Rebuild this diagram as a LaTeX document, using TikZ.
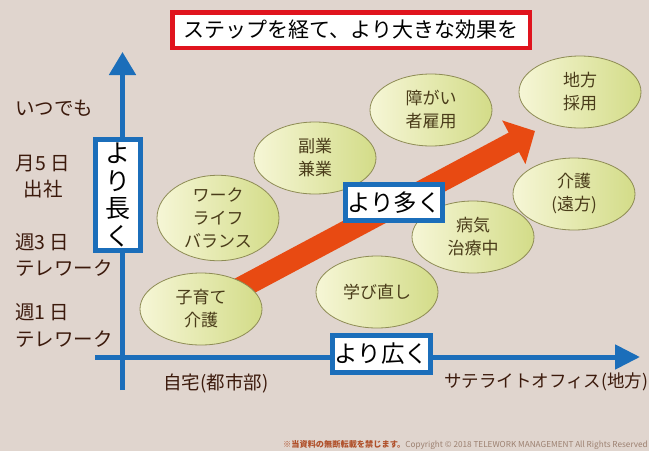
\documentclass[tikz,border=0pt]{standalone}
\usepackage{fontspec}
\setmainfont{Noto Sans CJK JP}
\usetikzlibrary{arrows.meta,shapes.geometric}
\definecolor{bgc}{HTML}{E0D5CE}
\definecolor{axisblue}{HTML}{1B6EBA}
\definecolor{titlered}{HTML}{E0141E}
\definecolor{arroworange}{HTML}{E84A12}
\definecolor{elltext}{HTML}{4A3C1A}
\definecolor{ellborder}{HTML}{8E8C55}
\definecolor{elllight}{HTML}{F6F6D6}
\definecolor{elldark}{HTML}{D3DC88}
\definecolor{labelbrown}{HTML}{3C1A0C}
\definecolor{copyjp}{HTML}{B0502A}
\definecolor{copyen}{HTML}{9C8070}
\pgfdeclarelayer{backlayer}
\pgfsetlayers{backlayer,main}
\begin{document}
\begin{tikzpicture}[x=1pt,y=-1pt,
  bubble/.style={ellipse, draw=ellborder, line width=0.8pt,
    left color=elllight, right color=elldark,
    minimum width=122pt, minimum height=72pt, inner sep=0pt,
    align=center, text=elltext, font=\fontsize{17}{23}\selectfont},
  bluebox/.style={draw=axisblue, line width=5pt, fill=white, inner sep=0pt,
    align=center, text=black, font=\fontsize{23.5}{27}\selectfont},
  titlebox/.style={draw=titlered, line width=4.5pt, fill=white, inner sep=0pt,
    text=black, font=\fontsize{21}{24}\selectfont},
  sidelabel/.style={inner sep=0pt, text=labelbrown, font=\fontsize{19.5}{26.5}\selectfont},
  axislabel/.style={inner sep=0pt, text=labelbrown},
  axisline/.style={draw=axisblue, line width=5pt},
  bigarrow/.style={draw=arroworange, line width=22pt, -{Triangle[width=48pt,length=24pt]}}
]
\useasboundingbox (0,0) rectangle (649,451);
\begin{pgfonlayer}{backlayer}
\fill[bgc] (0,0) rectangle (649,451);
\end{pgfonlayer}

% title
\node[titlebox, minimum width=357.5pt, minimum height=35.5pt] (title) at (351,30) {ステップを経て、より大きな効果を};

% axes
\coordinate (vbot) at (122.5,390);
\coordinate (vtop) at (122.5,52);
\coordinate (hleft) at (95,357);
\coordinate (hright) at (640,357);
\draw[axisline, -{Triangle[width=26pt,length=23pt]}] (vbot) -- (vtop);
\draw[axisline, -{Triangle[width=24pt,length=25pt]}] (hleft) -- (hright);

% bubbles
\node[bubble] (kosodate) at (201,309) {子育て\\介護};
\node[bubble] (wlb) at (218,218) {ワーク\\ライフ\\バランス};
\node[bubble] (fukugyo) at (315,158) {副業\\兼業};
\node[bubble] (shogai) at (431,110) {障がい\\者雇用};
\node[bubble] (chiho) at (580,92) {地方\\採用};
\node[bubble] (kaigo) at (574,194) {介護\\(遠方)};
\node[bubble] (byoki) at (473,237) {病気\\治療中};
\node[bubble] (manabi) at (377,292) {学び直し};

% orange arrow
\coordinate (tip) at (535,131);
\begin{pgfonlayer}{backlayer}
\draw[bigarrow] (kosodate.center) -- (tip);
\end{pgfonlayer}

% blue boxes
\node[bluebox, minimum width=45pt, minimum height=111pt, font=\fontsize{25}{27.5}\selectfont] (nagaku) at (118,195) {よ\\り\\長\\く};
\node[bluebox, minimum width=98pt, minimum height=37pt] (hiroku) at (381.5,354) {より広く};
\node[bluebox, minimum width=97pt, minimum height=36pt] (ooku) at (394,202.5) {より多く};

% side labels
\node[sidelabel, anchor=west] (itsudemo) at (15,108) {いつでも};
\node[sidelabel, align=center] (tsuki) at (43,176.5) {月5 日\\出社};
\node[sidelabel, align=left, anchor=west] (shu3) at (15,255) {週3 日\\テレワーク};
\node[sidelabel, align=left, anchor=west] (shu1) at (15,325.5) {週1 日\\テレワーク};

% axis labels
\node[axislabel, font=\fontsize{18.5}{20}\selectfont] (jitaku) at (216,383) {自宅(都市部)};
\node[axislabel, font=\fontsize{17.5}{20}\selectfont] (satellite) at (546,382) {サテライトオフィス(地方)};

% copyright
\node[inner sep=0pt, anchor=east, font=\fontsize{8.2}{9}\selectfont] (copy) at (648,445)
  {{\color{copyjp}\bfseries ※当資料の無断転載を禁じます。}{\color{copyen}Copyright © 2018 TELEWORK MANAGEMENT All Rights Reserved}};
\end{tikzpicture}
\end{document}
